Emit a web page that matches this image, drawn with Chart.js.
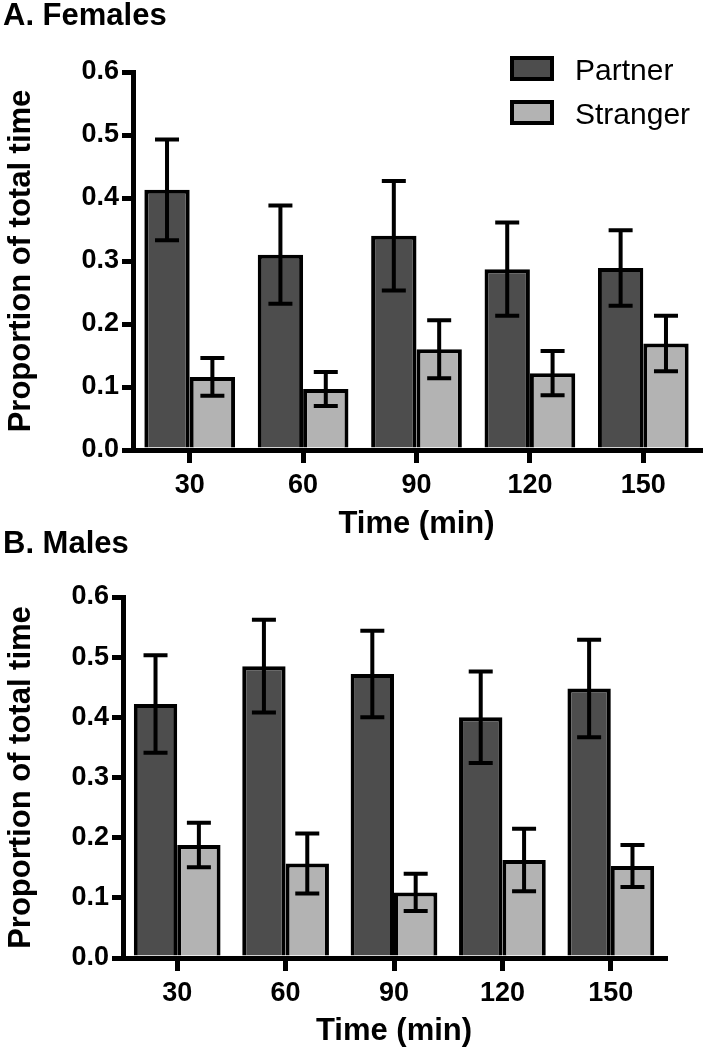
<!DOCTYPE html>
<html>
<head>
<meta charset="utf-8">
<script src="https://cdn.jsdelivr.net/npm/chart.js@4.4.1/dist/chart.umd.min.js"></script>
<style>
  html, body { margin: 0; padding: 0; background: #fff; }
  body { width: 704px; height: 1050px; position: relative; overflow: hidden; font-family: "Liberation Sans", Arial, sans-serif; }
  canvas { position: absolute; left: 0; }
  .panel-title { position: absolute; left: 3px; font-size: 31px; font-weight: bold; line-height: 1; }
  .legend-item { position: absolute; left: 510px; height: 29px; }
  .legend-box { position: absolute; left: 0; width: 44px; height: 25px; box-sizing: border-box; border: 4px solid #000; }
  .legend-text { position: absolute; left: 65px; top: 0; font-size: 30px; line-height: 1; white-space: nowrap; }
</style>
</head>
<body>
<canvas id="chartA" width="704" height="545" style="top:0"></canvas>
<canvas id="chartB" width="704" height="520" style="top:530px"></canvas>
<div class="panel-title" style="top:-1px">A. Females</div>
<div class="panel-title" style="top:527px">B. Males</div>
<div id="legend"></div>

<script>
// --- data ---
const timeLabels = ['30', '60', '90', '120', '150'];
const yTickLabels = ['0.0', '0.1', '0.2', '0.3', '0.4', '0.5', '0.6'];
const seriesNames = ['Partner', 'Stranger'];

const femalePartner = [0.413, 0.310, 0.340, 0.287, 0.289];
const femalePartnerErr = [0.080, 0.078, 0.087, 0.074, 0.060];
const femaleStranger = [0.116, 0.097, 0.160, 0.122, 0.169];
const femaleStrangerErr = [0.030, 0.027, 0.046, 0.035, 0.044];

const malePartner = [0.422, 0.485, 0.472, 0.400, 0.448];
const malePartnerErr = [0.081, 0.077, 0.072, 0.076, 0.081];
const maleStranger = [0.188, 0.157, 0.109, 0.163, 0.153];
const maleStrangerErr = [0.037, 0.050, 0.031, 0.052, 0.035];

const seriesColors = ['#4d4d4d', '#b3b3b3'];
const FONT = '"Liberation Sans", Arial, sans-serif';

// error bars drawn from the bar positions and the y scale
const errorBars = {
    id: 'errorBars',
    afterDatasetsDraw(chart) {
        const ctx = chart.ctx;
        const yScale = chart.scales.y;
        ctx.save();
        ctx.strokeStyle = '#000';
        ctx.lineWidth = 4;
        chart.data.datasets.forEach((ds, di) => {
            const meta = chart.getDatasetMeta(di);
            meta.data.forEach((bar, i) => {
                const v = ds.data[i];
                const e = ds.errors[i];
                const yTop = yScale.getPixelForValue(v + e);
                const yBot = yScale.getPixelForValue(v - e);
                const cap = 12;
                ctx.beginPath();
                ctx.moveTo(bar.x, yTop); ctx.lineTo(bar.x, yBot);
                ctx.moveTo(bar.x - cap, yTop); ctx.lineTo(bar.x + cap, yTop);
                ctx.moveTo(bar.x - cap, yBot); ctx.lineTo(bar.x + cap, yBot);
                ctx.stroke();
            });
        });
        ctx.restore();
    }
};

function makeChart(id, partner, partnerErr, stranger, strangerErr, box) {
    const ctx = document.getElementById(id).getContext('2d');
    return new Chart(ctx, {
        type: 'bar',
        data: {
            labels: timeLabels,
            datasets: [
                { label: seriesNames[0], data: partner, errors: partnerErr, backgroundColor: seriesColors[0], borderColor: '#000', borderWidth: 4 },
                { label: seriesNames[1], data: stranger, errors: strangerErr, backgroundColor: seriesColors[1], borderColor: '#000', borderWidth: 4 }
            ]
        },
        options: {
            responsive: false,
            animation: false,
            devicePixelRatio: 1,
            layout: { padding: { top: box.top, right: box.right, left: 0, bottom: 0 } },
            plugins: { legend: { display: false }, tooltip: { enabled: false } },
            datasets: { bar: { categoryPercentage: 0.8, barPercentage: 1.0 } },
            scales: {
                x: {
                    z: 1,
                    border: { display: true, width: 5, color: '#000' },
                    grid: { display: true, offset: false, drawOnChartArea: false, drawTicks: true, tickLength: 13, lineWidth: 5, color: '#000' },
                    ticks: { color: '#000', padding: 6, font: { family: FONT, size: 27, weight: 'bold' } },
                    title: { display: true, text: 'Time (min)', color: '#000', padding: { top: 0, bottom: box.xTitlePad }, font: { family: FONT, size: 31, weight: 'bold' } },
                    afterFit: (scale) => { scale.height = box.xHeight; }
                },
                y: {
                    min: 0,
                    max: 0.6,
                    border: { display: true, width: 5, color: '#000' },
                    grid: { display: true, drawOnChartArea: false, drawTicks: true, tickLength: 11, lineWidth: 5, color: '#000' },
                    ticks: {
                        stepSize: 0.1,
                        color: '#000',
                        padding: 3,
                        font: { family: FONT, size: 27, weight: 'bold' },
                        callback: (value, index) => yTickLabels[index]
                    },
                    title: { display: true, text: 'Proportion of total time', color: '#000', padding: { top: 3, bottom: 0 }, font: { family: FONT, size: 31, weight: 'bold' } },
                    afterFit: (scale) => { scale.width = box.left; }
                }
            }
        },
        plugins: [errorBars]
    });
}

makeChart('chartA', femalePartner, femalePartnerErr, femaleStranger, femaleStrangerErr,
    { left: 133, top: 72, right: 4, xHeight: 545 - 450, xTitlePad: 2 });
makeChart('chartB', malePartner, malePartnerErr, maleStranger, maleStrangerErr,
    { left: 123, top: 67, right: 39, xHeight: 520 - 428, xTitlePad: 0 });

// legend for panel A
const legend = document.getElementById('legend');
seriesNames.forEach((name, i) => {
    const item = document.createElement('div');
    item.className = 'legend-item';
    item.style.top = (55 + i * 43.5) + 'px';
    const sw = document.createElement('div');
    sw.className = 'legend-box';
    sw.style.top = '1px';
    sw.style.background = seriesColors[i];
    const txt = document.createElement('div');
    txt.className = 'legend-text';
    txt.textContent = name;
    item.appendChild(sw);
    item.appendChild(txt);
    legend.appendChild(item);
});
</script>
</body>
</html>
